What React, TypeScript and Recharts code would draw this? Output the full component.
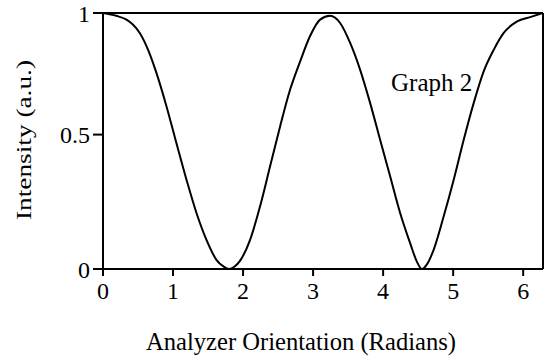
import React from 'react';
import { LineChart, Line, XAxis, YAxis, ReferenceLine } from 'recharts';

const angles = [
  0, 0.19, 0.335, 0.43, 0.525, 0.644, 0.764, 0.907, 1.05, 1.193, 1.336, 1.479, 1.622, 1.72, 1.8,
  1.88, 1.956, 2.099, 2.242, 2.385, 2.528, 2.671, 2.814, 2.957, 3.1, 3.243, 3.386, 3.529, 3.672,
  3.815, 3.958, 4.101, 4.244, 4.387, 4.48, 4.555, 4.63, 4.72, 4.864, 5.007, 5.15, 5.293, 5.436,
  5.579, 5.722, 5.914, 6.1, 6.283,
];
const intensity = [
  1.0, 0.989, 0.974, 0.954, 0.922, 0.856, 0.765, 0.635, 0.49, 0.348, 0.218, 0.113, 0.035, 0.01, 0,
  0.01, 0.032, 0.113, 0.244, 0.4, 0.556, 0.7, 0.81, 0.91, 0.974, 0.989, 0.961, 0.883, 0.778,
  0.648, 0.504, 0.361, 0.218, 0.1, 0.03, 0, 0.02, 0.074, 0.205, 0.348, 0.504, 0.648, 0.772,
  0.856, 0.922, 0.967, 0.984, 1.0,
];

const xTicks = [0, 1, 2, 3, 4, 5, 6];
const yTicks = [0, 0.525, 1];
const yTickLabels = ['0', '0.5', '1'];
const xMax = 6.283;

const data = angles.map((a, i) => ({ angle: a, intensity: intensity[i] }));

const font = 'Liberation Serif, DejaVu Serif, serif';
const textStyle = { fontFamily: font };

const App = () => {
  return (
    <div style={{ position: 'absolute', left: 0, top: 0, background: '#fff', fontFamily: font }}>
      <LineChart width={548} height={361} data={data} margin={{ top: 13, right: 5, bottom: 52, left: 0 }}>
        <XAxis
          dataKey="angle"
          type="number"
          domain={[0, xMax]}
          ticks={xTicks}
          allowDataOverflow
          height={40}
          stroke="#000"
          strokeWidth={2}
          tickSize={7}
          tickMargin={6}
          tick={{ fill: '#000', fontSize: 24, style: textStyle }}
        />
        <YAxis
          type="number"
          domain={[0, 1]}
          ticks={yTicks}
          tickFormatter={(v: number) => yTickLabels[yTicks.indexOf(v)]}
          width={103}
          stroke="#000"
          strokeWidth={2}
          tickSize={10}
          tickMargin={3}
          tick={{ fill: '#000', fontSize: 24, style: textStyle }}
        />
        <ReferenceLine y={1} stroke="#000" strokeWidth={2} />
        <ReferenceLine x={xMax} stroke="#000" strokeWidth={2} />
        <Line
          type="monotone"
          dataKey="intensity"
          stroke="#000"
          strokeWidth={2}
          dot={false}
          isAnimationActive={false}
        />
        <text x={391} y={91} fontSize={25} style={textStyle} fill="#000">
          Graph 2
        </text>
        <text x={146} y={350} fontSize={24.6} style={textStyle} fill="#000">
          Analyzer Orientation (Radians)
        </text>
        <text
          x={31}
          y={140}
          transform="rotate(-90 31 140)"
          textAnchor="middle"
          fontSize={22}
          style={textStyle}
          fill="#000"
          textLength={160}
          lengthAdjust="spacingAndGlyphs"
        >
          Intensity (a.u.)
        </text>
      </LineChart>
    </div>
  );
};

export default App;
